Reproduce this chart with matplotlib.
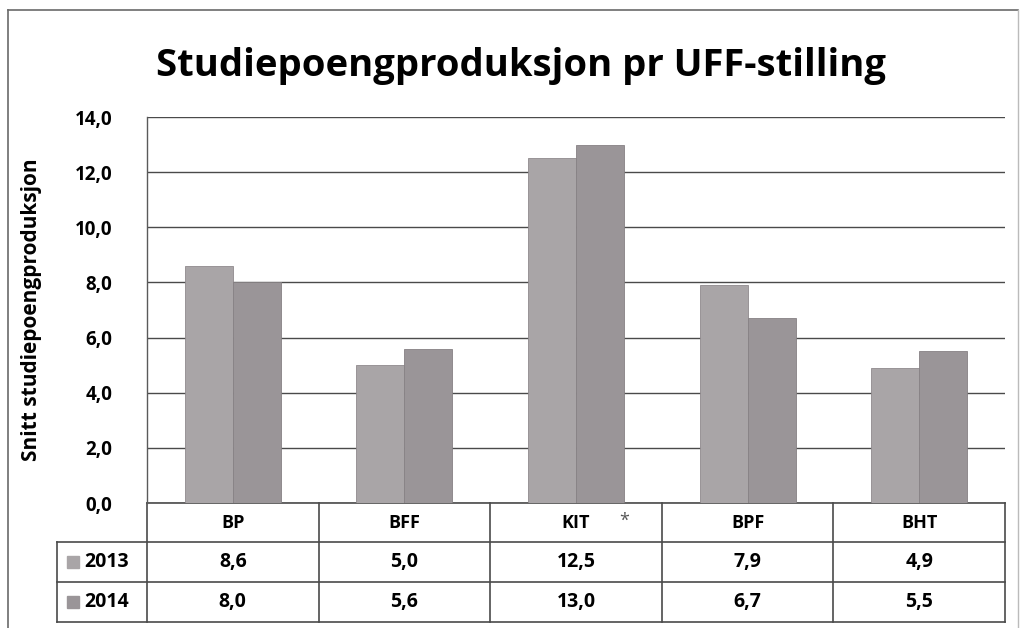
import matplotlib
matplotlib.use("Agg")
import matplotlib.pyplot as plt
from matplotlib.lines import Line2D
from matplotlib.patches import Rectangle
import matplotlib.transforms as mtrans

categories = ["BP", "BFF", "KIT", "BPF", "BHT"]
series_names = ["2013", "2014"]
values_2013 = [8.6, 5.0, 12.5, 7.9, 4.9]
values_2014 = [8.0, 5.6, 13.0, 6.7, 5.5]
labels_2013 = ["8,6", "5,0", "12,5", "7,9", "4,9"]
labels_2014 = ["8,0", "5,6", "13,0", "6,7", "5,5"]
yticks = [0, 2, 4, 6, 8, 10, 12, 14]
ytick_labels = ["0,0", "2,0", "4,0", "6,0", "8,0", "10,0", "12,0", "14,0"]
title = "Studiepoengproduksjon pr UFF-stilling"
ylabel = "Snitt studiepoengproduksjon"

plt.rcParams['font.family'] = ['Open Sans', 'DejaVu Sans']
W, H = 1025, 628
fig = plt.figure(figsize=(W/100, H/100), dpi=100)
fig.patch.set_facecolor("white")

def fx(px): return px / W
def fy(py): return 1 - py / H

left, right, top, bottom = 147, 1005, 117, 503
ax = fig.add_axes([fx(left), fy(bottom), fx(right) - fx(left), fy(top) - fy(bottom)])

col13 = "#a9a5a7"
col14 = "#9a9598"
bw = 0.28
x = list(range(len(categories)))
ax.bar([i - bw/2 for i in x], values_2013, width=bw, color=col13, edgecolor="#8f8a8d", linewidth=0.6, zorder=3)
ax.bar([i + bw/2 for i in x], values_2014, width=bw, color=col14, edgecolor="#868184", linewidth=0.6, zorder=3)

ax.set_xlim(-0.5, len(categories) - 0.5)
ax.set_ylim(0, 14)
ax.set_yticks(yticks)
ax.set_yticklabels(ytick_labels, fontsize=13.5, fontweight='bold')
ax.tick_params(axis='y', length=0, pad=25)
ax.set_xticks([])
ax.yaxis.grid(True, color="#4a4a4a", linewidth=1.0, zorder=0)
for s in ["top", "right", "bottom"]:
    ax.spines[s].set_visible(False)
ax.spines["left"].set_color("#5a5a5a")
ax.spines["left"].set_linewidth(1.0)
ax.set_ylabel(ylabel, fontsize=15, fontweight='bold')
ax.yaxis.set_label_coords(-0.122, 0.5)

fig.text(0.508, fy(66), title, fontsize=27.5, fontweight='bold', ha='center', va='center')

# Data table under the axis
tr = mtrans.blended_transform_factory(ax.transData, fig.transFigure)
row_y = [503, 542, 582, 622]
lc = "#4a4a4a"
lw = 1.2
n = len(categories)
ax.add_line(Line2D([-0.5, n - 0.5], [fy(503)] * 2, transform=tr, color=lc, lw=lw, clip_on=False))
for yy in row_y[1:]:
    fig.add_artist(Line2D([fx(57), fx(right)], [fy(yy)] * 2, color=lc, lw=lw))
for b in range(n + 1):
    ax.add_line(Line2D([b - 0.5, b - 0.5], [fy(503), fy(622)], transform=tr, color=lc, lw=lw, clip_on=False))
fig.add_artist(Line2D([fx(57), fx(57)], [fy(542), fy(622)], color=lc, lw=lw))

for i, c in enumerate(categories):
    ax.text(i, fy(523), c, transform=tr, ha='center', va='center', fontsize=13, fontweight='bold', clip_on=False)
    ax.text(i, fy(562), labels_2013[i], transform=tr, ha='center', va='center', fontsize=14, fontweight='bold', clip_on=False)
    ax.text(i, fy(602), labels_2014[i], transform=tr, ha='center', va='center', fontsize=14, fontweight='bold', clip_on=False)
ax.text(2 + 0.28, fy(521), "*", transform=tr, ha='center', va='center', fontsize=13, color="#555555", clip_on=False)

for yy, name, col in [(562, series_names[0], col13), (602, series_names[1], col14)]:
    fig.add_artist(Rectangle((fx(67), fy(yy) - 0.5 * 12 / H), 12 / W, 12 / H, color=col))
    fig.text(fx(84), fy(yy), name, ha='left', va='center', fontsize=14, fontweight='bold')

fc = "#6a6a6a"
fig.add_artist(Line2D([fx(8), fx(1018)], [fy(10), fy(10)], color=fc, lw=1.2))
fig.add_artist(Line2D([fx(8), fx(8)], [fy(10), fy(628)], color=fc, lw=1.2))
fig.add_artist(Line2D([fx(1018), fx(1018)], [fy(10), fy(628)], color="#bbbbbb", lw=1.0))

fig.savefig("out.png", dpi=100, facecolor="white")
